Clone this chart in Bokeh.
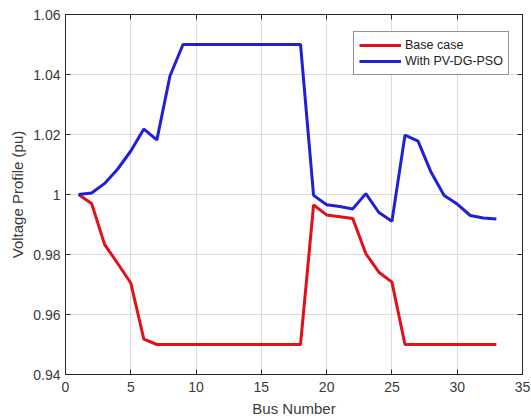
from bokeh.plotting import figure
from bokeh.models import (LinearAxis, FixedTicker, NumeralTickFormatter, Range1d, Legend,
                          LegendItem, CustomLabelingPolicy)
from bokeh.embed import file_html
from bokeh.resources import INLINE

bus = list(range(1, 34))
base_case = [1.0, 0.997, 0.9833, 0.977, 0.9705, 0.9518, 0.9500,
             0.95, 0.95, 0.95, 0.95, 0.95, 0.95, 0.95, 0.95, 0.95, 0.95, 0.95,
             0.9965, 0.9932, 0.9926, 0.992, 0.9803, 0.9741, 0.9708,
             0.95, 0.95, 0.95, 0.95, 0.95, 0.95, 0.95, 0.95]
pv_dg_pso = [1.0, 1.0005, 1.0037, 1.0085, 1.0145, 1.0218, 1.0182, 1.0395,
             1.05, 1.05, 1.05, 1.05, 1.05, 1.05, 1.05, 1.05, 1.05, 1.05,
             0.9997, 0.9966, 0.996, 0.9952, 1.0003, 0.994, 0.9911, 1.0198,
             1.0178, 1.0074, 0.9997, 0.9968, 0.993, 0.9922, 0.9918]
x_ticks = [0, 5, 10, 15, 20, 25, 30, 35]
y_ticks = [0.94, 0.96, 0.98, 1.0, 1.02, 1.04, 1.06]

FONT = "Liberation Sans"
TXT = "#3a3a3a"
AX = "#262626"

p = figure(width=531, height=420, output_backend="svg", toolbar_location=None,
           x_range=Range1d(0, 35), y_range=Range1d(0.94, 1.06),
           x_axis_location=None, y_axis_location=None,
           min_border_left=65, min_border_right=9, min_border_top=14, min_border_bottom=46)
p.outline_line_color = AX
p.outline_line_width = 1
p.background_fill_color = "white"
p.border_fill_color = "white"

no_labels = CustomLabelingPolicy(code="""
for (const i of Array.from(indices)) indices.unset(i)
return indices
""")

def mk_axis(labels=True, label=None, fmt=None, standoff=5, label_standoff=5):
    ax = LinearAxis()
    ax.axis_line_color = AX
    ax.major_tick_line_color = AX
    ax.major_tick_in = 5
    ax.major_tick_out = 0
    ax.minor_tick_line_color = None
    if labels:
        ax.major_label_text_font = FONT
        ax.major_label_text_font_size = "14px"
        ax.major_label_text_color = TXT
        ax.major_label_standoff = standoff
    else:
        ax.major_label_policy = no_labels
        ax.major_label_text_font_size = "0px"
        ax.major_label_standoff = 0
    if label:
        ax.axis_label = label
        ax.axis_label_text_font = FONT
        ax.axis_label_text_font_size = "15px"
        ax.axis_label_text_font_style = "normal"
        ax.axis_label_text_color = TXT
        ax.axis_label_standoff = label_standoff
    if fmt is not None:
        ax.formatter = fmt
    return ax

xb = mk_axis(True, "Bus Number", standoff=7, label_standoff=5)
xb.ticker = FixedTicker(ticks=x_ticks)
xt = mk_axis(False)
xt.ticker = FixedTicker(ticks=x_ticks)
yl = mk_axis(True, "Voltage Profile (pu)", NumeralTickFormatter(format="0.[00]"),
             standoff=5, label_standoff=4)
yl.ticker = FixedTicker(ticks=y_ticks)
yr = mk_axis(False)
yr.ticker = FixedTicker(ticks=y_ticks)
p.add_layout(xb, "below")
p.add_layout(xt, "above")
p.add_layout(yl, "left")
p.add_layout(yr, "right")

p.xgrid.ticker = FixedTicker(ticks=x_ticks)
p.ygrid.ticker = FixedTicker(ticks=y_ticks)
for g in (p.xgrid, p.ygrid):
    g.grid_line_color = "#dcdcdc"
    g.grid_line_width = 1

r1 = p.line(bus, base_case, line_color="#e3101a", line_width=3)
r2 = p.line(bus, pv_dg_pso, line_color="#2020d6", line_width=3)

leg = Legend(items=[LegendItem(label="Base case", renderers=[r1]),
                    LegendItem(label="With PV-DG-PSO", renderers=[r2])],
             location=(288, 299))
leg.label_text_font = FONT
leg.label_text_font_size = "12.5px"
leg.label_text_color = "#222222"
leg.glyph_width = 42
leg.glyph_height = 16
leg.label_height = 16
leg.label_standoff = 4
leg.spacing = 0
leg.padding = 5
leg.margin = 0
leg.border_line_color = AX
leg.border_line_width = 1
leg.background_fill_color = "white"
leg.background_fill_alpha = 1
p.add_layout(leg, "center")

open("out.html", "w").write(file_html(p, INLINE))
